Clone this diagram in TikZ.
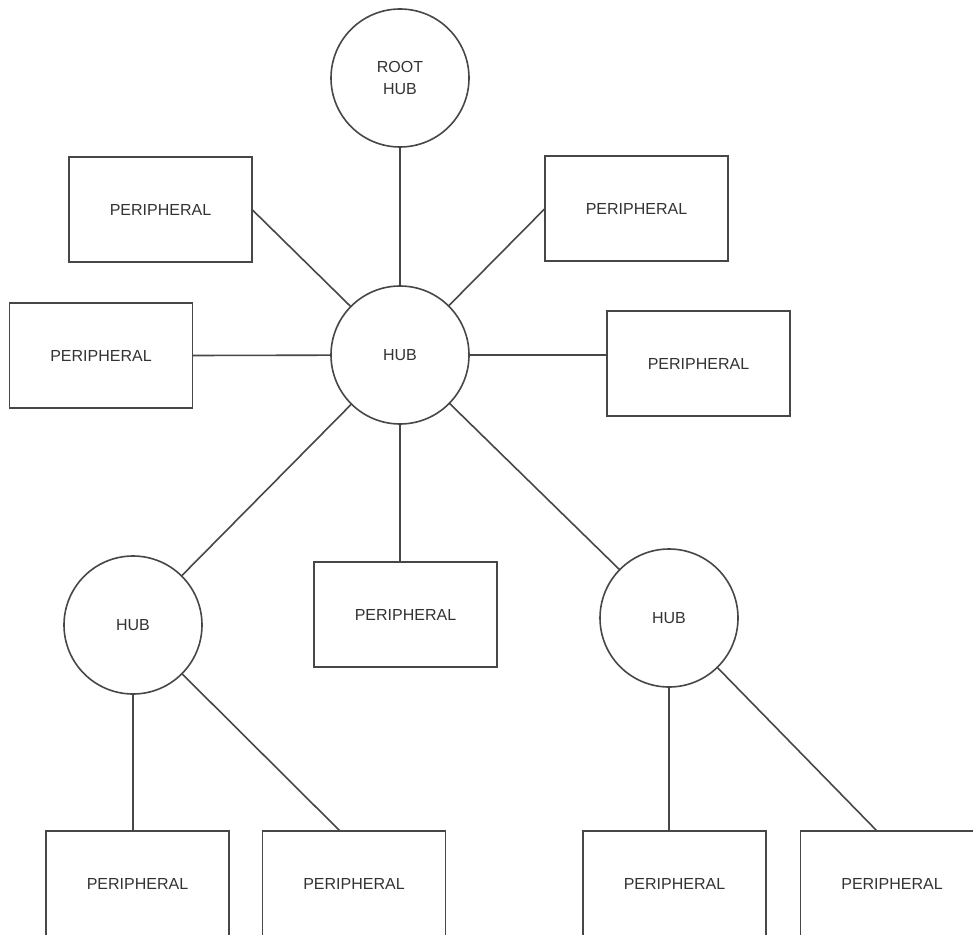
\documentclass[tikz,border=0pt]{standalone}
\usepackage{fontspec}
\setmainfont{Liberation Sans}
\begin{document}
\begin{tikzpicture}[x=0.75pt,y=-0.75pt,
  periph/.style={draw=black!72, line width=1.2pt, rectangle, minimum width=137.25pt, minimum height=78.75pt, inner sep=0pt, outer sep=0pt, font=\fontsize{12}{14}\selectfont, text=black!80},
  hubnode/.style={draw=black!72, line width=1.2pt, circle, minimum size=103.5pt, inner sep=0pt, outer sep=0pt, font=\fontsize{12}{16}\selectfont, text=black!80, align=center},
  link/.style={draw=black!72, line width=1.2pt}]
\useasboundingbox (0,0) rectangle (973,934);
\clip (0,0) rectangle (973,934);
\fill[white] (0,0) rectangle (973,934);
% hubs
\node[hubnode] (root) at (400,78) {ROOT\\HUB};
\node[hubnode] (hub) at (400,355) {HUB};
\node[hubnode] (lh) at (133,625) {HUB};
\node[hubnode] (rh) at (669,618) {HUB};
% peripherals
\node[periph] (tl) at (160.5,209.5) {PERIPHERAL};
\node[periph] (tr) at (636.5,208.5) {PERIPHERAL};
\node[periph] (lp) at (101,355.5) {PERIPHERAL};
\node[periph] (rp) at (698.5,363.5) {PERIPHERAL};
\node[periph] (cp) at (405.5,614.5) {PERIPHERAL};
\node[periph] (b1) at (137.5,883.5) {PERIPHERAL};
\node[periph] (b2) at (354,883.5) {PERIPHERAL};
\node[periph] (b3) at (674.5,883.5) {PERIPHERAL};
\node[periph] (b4) at (892,883.5) {PERIPHERAL};
\coordinate (b2in) at (340,831);
\coordinate (b4in) at (877,831);
% connectors
\draw[link] (root) -- (hub);
\draw[link] (hub) -- (tl.east);
\draw[link] (hub) -- (tr.west);
\draw[link] (hub) -- (lp.east);
\draw[link] (hub) -- (hub -| rp.west);
\draw[link] (hub) -- (hub |- cp.north);
\draw[link] (hub) -- (lh);
\draw[link] (hub) -- (rh);
\draw[link] (lh) -- (lh |- b1.north);
\draw[link] (lh) -- (b2in);
\draw[link] (rh) -- (rh |- b3.north);
\draw[link] (rh) -- (b4in);
\end{tikzpicture}
\end{document}
